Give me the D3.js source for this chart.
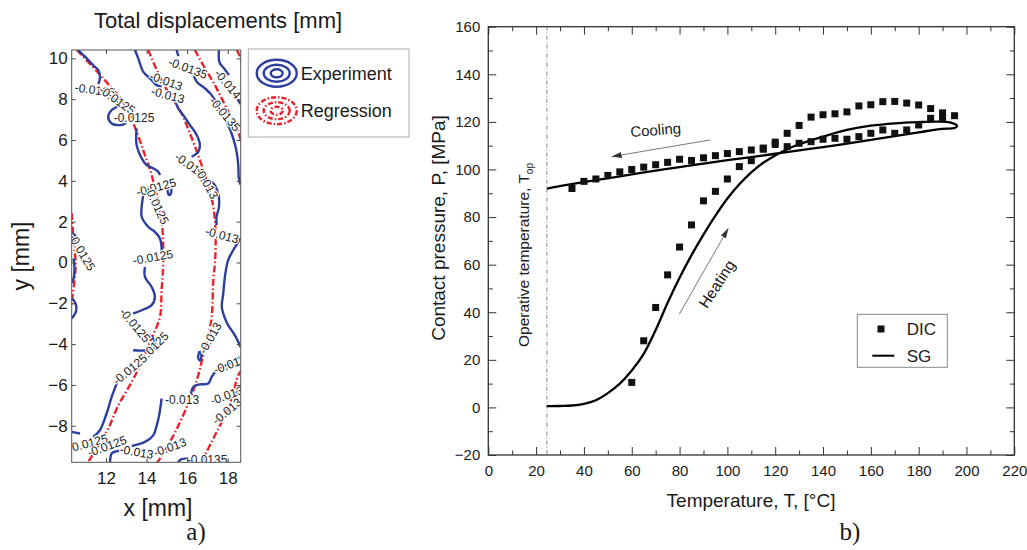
<!DOCTYPE html>
<html>
<head>
  <meta charset="utf-8">
  <script src="https://d3js.org/d3.v7.min.js"></script>
  <style>
    body { margin: 0; background: #fff; }
    text { font-family: "Liberation Sans", Arial, sans-serif; fill: #1a1a1a; }
    .serif { font-family: "Liberation Serif", "Times New Roman", serif; }
    .clab { font-size: 12px; fill: #222; stroke: #fff; stroke-width: 2.5px; paint-order: stroke; }
  </style>
</head>
<body>
<svg id="fig" width="1027" height="550"></svg>
<script>
// ---------- data: panel a) contour plot (x, y in mm) ----------
var expContours = [
  [[10.62,10.41],[11.05,10.0],[11.41,9.62],[11.62,9.43],[11.70,9.02],[11.62,8.74]],
  [[12.20,8.05],[12.44,7.96],[12.61,7.71],[12.28,7.47],[12.11,7.14],[12.28,6.81],[12.69,6.73],[12.94,6.81],[13.02,6.98]],
  [[13.51,6.57],[13.51,5.75],[13.76,5.10],[14.00,4.77],[14.33,4.61],[14.58,4.44],[14.66,4.28]],
  [[13.84,3.30],[13.76,2.73],[13.76,2.24],[14.08,1.75],[14.41,1.50],[14.66,1.18],[14.74,0.76],[14.74,0.52]],
  [[13.92,-0.22],[13.92,-0.71],[14.25,-1.20],[14.41,-1.69],[14.25,-2.09],[13.76,-2.34],[13.34,-2.50]],
  [[14.00,-3.48],[14.33,-3.73],[14.41,-4.14],[14.00,-4.30],[13.34,-4.30]],
  [[12.61,-5.69],[12.44,-6.16],[12.28,-6.59],[12.03,-7.40],[11.70,-8.22],[11.37,-8.55]],
  [[10.31,-8.30],[10.72,-8.38]],
  [[15.08,3.72],[15.20,3.65],[15.22,3.45],[15.13,3.30],[15.04,3.45],[15.08,3.72]],
  [[13.43,10.41],[13.59,10.0],[13.84,9.34],[14.17,9.02],[14.50,8.69],[14.74,8.61]],
  [[15.35,8.10],[15.56,7.55],[15.81,7.22],[16.14,6.73],[16.38,6.40],[16.55,6.08],[16.63,5.75],[16.55,5.42],[16.22,5.18]],
  [[16.71,4.03],[17.21,3.95],[17.53,3.38],[17.57,2.73],[17.45,2.24],[17.45,1.83]],
  [[18.64,1.19],[18.27,0.60],[18.02,0.11],[17.86,-0.71],[17.78,-1.52],[17.71,-2.18],[17.86,-2.73],[18.02,-3.07],[18.35,-3.56],[18.64,-4.15]],
  [[15.48,10.41],[15.57,10.11]],
  [[16.30,9.26],[16.47,8.85],[16.88,8.53],[17.21,8.20],[17.45,7.79],[17.70,7.22],[18.02,6.73],[18.27,6.08],[18.44,5.42],[18.52,4.77],[18.55,4.12],[18.64,3.80]],
  [[17.57,10.41],[17.59,9.82],[17.81,9.52],[18.06,9.18]],
  [[18.50,7.96],[18.64,7.76]],
  [[10.32,1.44],[10.52,1.24],[10.37,0.95]],
  [[10.40,0.20],[10.45,-0.30],[10.40,-0.80],[10.32,-1.00]],
  [[10.31,-1.75],[10.50,-2.00],[10.52,-2.40],[10.31,-2.75]],
  [[18.64,-4.60],[18.50,-4.69],[18.01,-4.99],[17.45,-5.28],[17.21,-5.61],[17.04,-5.93],[16.55,-5.98],[16.30,-6.10],[16.19,-6.45]],
  [[14.74,-6.67],[14.62,-7.49],[14.50,-7.98],[14.33,-8.47],[13.92,-8.79],[13.27,-8.99]],
  [[12.85,-9.20],[12.50,-9.25],[12.28,-9.36],[12.20,-9.79]],
  [[16.60,-4.35],[16.70,-4.50],[16.65,-4.80],[16.55,-4.70],[16.60,-4.35]],
  [[18.10,-6.30],[18.40,-6.40],[18.64,-6.20]],
  [[15.55,-9.79],[15.70,-9.65],[16.05,-9.60]]
];

var regContours = [
  [[10.31,2.42],[10.40,1.09],[10.50,0.01],[10.45,-0.87],[10.32,-1.85],[10.28,-2.20]],
  [[10.56,10.41],[11.79,9.10],[12.94,7.71],[13.51,6.40],[13.92,5.26],[14.25,4.28],[14.74,2.07],[14.82,-0.05],[14.74,-1.36],[14.66,-2.67],[14.17,-3.89],[13.76,-4.87],[13.27,-5.85],[12.61,-7.00],[12.11,-8.14],[11.62,-8.96],[11.13,-9.77]],
  [[14.08,10.41],[14.82,8.77],[15.64,7.47],[16.14,6.32],[16.63,5.01],[16.96,4.03],[17.29,2.73],[17.40,1.42],[17.38,0.10],[17.29,-0.87],[17.21,-2.67],[17.04,-3.56],[16.79,-4.54],[16.55,-5.52],[16.22,-6.50],[15.73,-7.65],[15.24,-8.63],[14.66,-9.61],[14.50,-9.84]],
  [[16.38,10.41],[16.88,9.51],[17.37,8.69],[17.70,8.04],[18.11,7.22],[18.52,6.40],[18.70,5.75]],
  [[18.70,-5.27],[18.52,-5.52],[18.19,-6.67],[17.70,-7.81],[17.21,-8.79],[16.71,-9.77]],
  [[18.45,10.41],[18.70,9.90]]
];

// [x, y, text, angle]
var contourLabels = [
  [11.46,8.45,"-0.0125",8], [12.55,7.96,"-0.0125",35], [13.38,7.10,"-0.0125",0],
  [16.04,9.52,"-0.0135",20], [14.96,8.89,"-0.013",20], [15.05,8.20,"-0.013",15],
  [18.01,8.74,"-0.014",50], [17.86,7.27,"-0.0135",50], [16.14,4.77,"-0.013",35],
  [16.97,3.89,"-0.013",60], [14.47,3.69,"-0.0125",-15], [14.51,2.81,"-0.0125",65],
  [17.72,1.34,"-0.013",15], [14.31,0.26,"-0.0125",-10], [10.82,0.51,"-0.0125",60],
  [13.43,-3.07,"-0.0125",50], [14.27,-4.20,"-0.0125",-45], [13.18,-5.23,"-0.0125",-40],
  [17.13,-3.70,"-0.013",-60], [18.11,-4.99,"-0.013",-20], [15.75,-6.75,"-0.013",0],
  [18.11,-6.45,"-0.0135",-20], [17.96,-7.28,"-0.013",-40], [11.11,-8.86,"-0.0125",-15],
  [12.05,-9.00,"-0.0125",-20], [13.51,-9.28,"-0.013",10], [15.15,-9.05,"-0.013",-20],
  [16.98,-9.66,"-0.0135",0]
];

var aXTicks = [12, 14, 16, 18];
var aYTicks = [-8, -6, -4, -2, 0, 2, 4, 6, 8, 10];

// ---------- data: panel b) contact pressure vs temperature ----------
var dicCoolT = [35,40,45,50,55,60,65,70,75,80,85,90,95,100,105,110,115,120,125,130,135,140,145,150,155,160,165,170,175,180,185,190];
var dicCoolP = [92,95,96,97.5,99,100,101,102,103,104.3,103.8,104.9,105.8,106.7,107.5,108.2,108.5,110.5,109.6,111,111.7,112.7,113.1,112.7,113.8,115.2,116.6,115.2,116.6,118.7,121.5,121.8];
var dicHeatT = [60,65,70,75,80,85,90,95,100,105,110,115,120,125,130,135,140,145,150,155,160,165,170,175,180,185,190,195];
var dicHeatP = [10.5,28,42,55.7,67.4,76.7,86.8,90.8,96,101.2,103.7,109,111.5,115.2,118.5,122,123,123.4,124.2,126.7,127.2,128.5,128.6,127.9,127.1,125.6,123.8,122.6];

var sgT = [24.5,30,35,40,45,50,55,60,65,70,75,80,85,90,95,100,105,110,115,120,125,130,140,150,160,170,180,188,193,196,195,190,180,170,160,150,140,130,120,110,100,90,80,70,60,50,40,30,24.5];
var sgP = [0.5,0.6,0.8,1.5,3,6,10,15.5,22.5,32.5,44,54.5,64,72.6,80.6,87.8,93.8,98.8,102.8,105.9,108.5,110.6,113.8,116.6,118.4,119.4,119.9,120.1,119.8,118.4,117.4,117.1,115.6,114,112.4,110.9,109.4,108,106.6,105.2,103.9,102.5,101,99.5,97.9,96.3,94.7,93,91.9];

var bXTicks = d3.range(0, 221, 20);
var bXMinor = d3.range(10, 220, 20);
var bYTicks = d3.range(-20, 161, 20);
var bYMinor = d3.range(-10, 160, 20);
var tOperative = 24.5;
var coolingArrow = [[92.8, 112.4], [51.6, 105.4]];
var heatingArrow = [[79.9, 39.2], [100.4, 75.3]];

var svg = d3.select("#fig");
var blue = "#2c3f9e", red = "#e8212b";

// ================= panel a) =================
var lx = d3.scaleLinear().domain([10.31, 18.64]).range([71.7, 240.7]);
var ly = d3.scaleLinear().domain([-9.79, 10.41]).range([462.3, 50]);

svg.append("text").attr("x", 218).attr("y", 28).attr("text-anchor", "middle")
  .style("font-size", "22px").text("Total displacements [mm]");

svg.append("clipPath").attr("id", "clipA").append("rect")
  .attr("x", 71.7).attr("y", 50).attr("width", 169).attr("height", 412.3);

var ga = svg.append("g").attr("clip-path", "url(#clipA)");

var lineA = d3.line().x(function(d) { return lx(d[0]); }).y(function(d) { return ly(d[1]); });

ga.selectAll("path.reg").data(regContours).enter().append("path")
  .attr("class", "reg")
  .attr("d", lineA.curve(d3.curveCatmullRom))
  .attr("fill", "none").attr("stroke", red).attr("stroke-width", 2.4)
  .attr("stroke-dasharray", "7,2.5,1.5,2.5");

ga.selectAll("path.exp").data(expContours).enter().append("path")
  .attr("class", "exp")
  .attr("d", d3.line().x(function(d) { return lx(d[0]); }).y(function(d) { return ly(d[1]); }).curve(d3.curveCatmullRom))
  .attr("fill", "none").attr("stroke", blue).attr("stroke-width", 2.4)
  .attr("stroke-linejoin", "round");

ga.selectAll("text.clab").data(contourLabels).enter().append("text")
  .attr("class", "clab")
  .attr("text-anchor", "middle").attr("dy", "0.35em")
  .attr("transform", function(d) { return "translate(" + lx(d[0]) + "," + ly(d[1]) + ") rotate(" + d[3] + ")"; })
  .text(function(d) { return d[2]; });

// axes of panel a)
function styleAxis(g, col) {
  g.select(".domain").remove();
  g.selectAll("line").attr("stroke", col);
}
svg.append("g").attr("transform", "translate(0,462.3)")
  .call(d3.axisBottom(lx).tickValues(aXTicks).tickSize(-4).tickPadding(10))
  .call(styleAxis, "#444")
  .selectAll("text").style("font-size", "17px").attr("fill", "#222");
svg.append("g").attr("transform", "translate(0,50)")
  .call(d3.axisTop(lx).tickValues(aXTicks).tickSize(-4).tickFormat(""))
  .call(styleAxis, "#444");
svg.append("g").attr("transform", "translate(71.7,0)")
  .call(d3.axisLeft(ly).tickValues(aYTicks).tickSize(-4).tickPadding(4))
  .call(styleAxis, "#444")
  .selectAll("text").style("font-size", "17px").attr("fill", "#222");
svg.append("g").attr("transform", "translate(240.7,0)")
  .call(d3.axisRight(ly).tickValues(aYTicks).tickSize(-4).tickFormat(""))
  .call(styleAxis, "#444");
svg.append("rect").attr("x", 71.7).attr("y", 50).attr("width", 169).attr("height", 412.3)
  .attr("fill", "none").attr("stroke", "#555").attr("stroke-width", 1);

svg.append("text").attr("x", 158).attr("y", 516).attr("text-anchor", "middle")
  .style("font-size", "23px").text("x [mm]");
svg.append("text").attr("transform", "translate(29,256) rotate(-90)").attr("text-anchor", "middle")
  .style("font-size", "23px").text("y [mm]");

// legend a)
var lg = svg.append("g");
lg.append("rect").attr("x", 248.3).attr("y", 49).attr("width", 160.7).attr("height", 88)
  .attr("fill", "#fff").attr("stroke", "#aaa").attr("stroke-width", 1);
[[20, 13.5], [13, 8.5], [6, 4]].forEach(function(r) {
  lg.append("ellipse").attr("cx", 276.7).attr("cy", 73.3).attr("rx", r[0]).attr("ry", r[1])
    .attr("fill", "none").attr("stroke", blue).attr("stroke-width", 2.4);
  lg.append("ellipse").attr("cx", 276.7).attr("cy", 110.7).attr("rx", r[0]).attr("ry", r[1])
    .attr("fill", "none").attr("stroke", red).attr("stroke-width", 2.4)
    .attr("stroke-dasharray", "5,2,1.5,2");
});
lg.append("text").attr("x", 300.7).attr("y", 79.5).style("font-size", "18px").text("Experiment");
lg.append("text").attr("x", 300.7).attr("y", 117).style("font-size", "18px").text("Regression");

svg.append("text").attr("class", "serif").attr("x", 196).attr("y", 540).attr("text-anchor", "middle")
  .style("font-size", "25px").text("a)");

// ================= panel b) =================
var x = d3.scaleLinear().domain([0, 220]).range([488.3, 1014.3]);
var y = d3.scaleLinear().domain([-20, 160]).range([455, 26.7]);

// operative temperature line
svg.append("line")
  .attr("x1", x(tOperative)).attr("x2", x(tOperative))
  .attr("y1", y(160)).attr("y2", y(-20))
  .attr("stroke", "#666").attr("stroke-width", 0.8).attr("stroke-dasharray", "4,2,1,2");

var opText = svg.append("text").attr("transform", "translate(529,255) rotate(-90)")
  .attr("text-anchor", "middle").style("font-size", "15.5px");
opText.append("tspan").text("Operative temperature, T");
opText.append("tspan").attr("dy", 4).style("font-size", "10px").text("op");

// SG curve
svg.append("path")
  .datum(d3.zip(sgT, sgP))
  .attr("d", d3.line().x(function(d) { return x(d[0]); }).y(function(d) { return y(d[1]); })
    .curve(d3.curveCatmullRom.alpha(0.5)))
  .attr("fill", "none").attr("stroke", "#000").attr("stroke-width", 2.3);

// DIC points
var dic = d3.zip(dicCoolT, dicCoolP).concat(d3.zip(dicHeatT, dicHeatP));
svg.append("g").selectAll("rect").data(dic).enter().append("rect")
  .attr("x", function(d) { return x(d[0]) - 3.5; })
  .attr("y", function(d) { return y(d[1]) - 3.5; })
  .attr("width", 7).attr("height", 7).attr("fill", "#111");

// arrows
var defs = svg.append("defs");
defs.append("marker").attr("id", "arr").attr("viewBox", "0 0 10 6")
  .attr("refX", 10).attr("refY", 3).attr("markerWidth", 10).attr("markerHeight", 6)
  .attr("markerUnits", "userSpaceOnUse").attr("orient", "auto")
  .append("path").attr("d", "M0,0 L10,3 L0,6 Z").attr("fill", "#333");

[coolingArrow, heatingArrow].forEach(function(a) {
  svg.append("line")
    .attr("x1", x(a[0][0])).attr("y1", y(a[0][1]))
    .attr("x2", x(a[1][0])).attr("y2", y(a[1][1]))
    .attr("stroke", "#555").attr("stroke-width", 0.8).attr("marker-end", "url(#arr)");
});
svg.append("text").attr("transform", "translate(" + x(70) + "," + y(116.6) + ") rotate(-4)")
  .attr("text-anchor", "middle").attr("dy", "0.35em").style("font-size", "15px").text("Cooling");
svg.append("text").attr("transform", "translate(" + x(95.6) + "," + y(51.9) + ") rotate(-57)")
  .attr("text-anchor", "middle").attr("dy", "0.35em").style("font-size", "15.5px").text("Heating");

// axes b)
svg.append("g").attr("transform", "translate(0,455)")
  .call(d3.axisBottom(x).tickValues(bXTicks).tickSize(-8).tickPadding(10))
  .call(styleAxis, "#333")
  .selectAll("text").style("font-size", "15px").attr("fill", "#222");
svg.append("g").attr("transform", "translate(0,455)")
  .call(d3.axisBottom(x).tickValues(bXMinor).tickSize(-4.5).tickFormat(""))
  .call(styleAxis, "#333");
svg.append("g").attr("transform", "translate(0,26.7)")
  .call(d3.axisTop(x).tickValues(bXTicks).tickSize(-8).tickFormat(""))
  .call(styleAxis, "#333");
svg.append("g").attr("transform", "translate(0,26.7)")
  .call(d3.axisTop(x).tickValues(bXMinor).tickSize(-4.5).tickFormat(""))
  .call(styleAxis, "#333");
svg.append("g").attr("transform", "translate(488.3,0)")
  .call(d3.axisLeft(y).tickValues(bYTicks).tickSize(-8).tickPadding(8))
  .call(styleAxis, "#333")
  .selectAll("text").style("font-size", "15px").attr("fill", "#222");
svg.append("g").attr("transform", "translate(488.3,0)")
  .call(d3.axisLeft(y).tickValues(bYMinor).tickSize(-4.5).tickFormat(""))
  .call(styleAxis, "#333");
svg.append("g").attr("transform", "translate(1014.3,0)")
  .call(d3.axisRight(y).tickValues(bYTicks).tickSize(-8).tickFormat(""))
  .call(styleAxis, "#333");
svg.append("g").attr("transform", "translate(1014.3,0)")
  .call(d3.axisRight(y).tickValues(bYMinor).tickSize(-4.5).tickFormat(""))
  .call(styleAxis, "#333");
svg.append("rect").attr("x", 488.3).attr("y", 26.7).attr("width", 526).attr("height", 428.3)
  .attr("fill", "none").attr("stroke", "#333").attr("stroke-width", 1.3);

svg.append("text").attr("x", 751).attr("y", 507).attr("text-anchor", "middle")
  .style("font-size", "19px").text("Temperature, T, [\u00B0C]");
svg.append("text").attr("transform", "translate(445,228) rotate(-90)").attr("text-anchor", "middle")
  .style("font-size", "19px").text("Contact pressure, P, [MPa]");

// legend b)
var lb = svg.append("g");
lb.append("rect").attr("x", 857.3).attr("y", 314.3).attr("width", 90).attr("height", 53)
  .attr("fill", "#fff").attr("stroke", "#888").attr("stroke-width", 1);
lb.append("rect").attr("x", 877.5).attr("y", 325.5).attr("width", 7).attr("height", 7).attr("fill", "#111");
lb.append("line").attr("x1", 872.3).attr("x2", 894.3).attr("y1", 355.7).attr("y2", 355.7)
  .attr("stroke", "#000").attr("stroke-width", 2);
lb.append("text").attr("x", 906.7).attr("y", 335).style("font-size", "17px").text("DIC");
lb.append("text").attr("x", 906.7).attr("y", 362).style("font-size", "17px").text("SG");

svg.append("text").attr("class", "serif").attr("x", 850).attr("y", 540).attr("text-anchor", "middle")
  .style("font-size", "25px").text("b)");
</script>
</body>
</html>
